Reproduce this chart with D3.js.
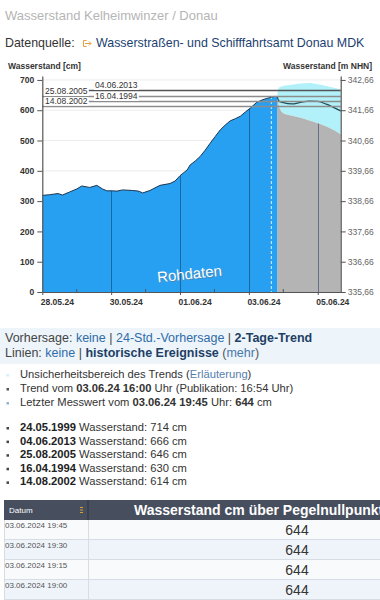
<!DOCTYPE html>
<html><head><meta charset="utf-8">
<script src="https://cdn.jsdelivr.net/npm/d3@7"></script>
<style>
html,body{margin:0;padding:0;background:#fff;}
svg{display:block;font-family:"Liberation Sans",Arial,Helvetica,sans-serif;}
</style></head><body>
<svg id="page" width="380" height="600"></svg>
<script>
// ---------- data ----------
const measuredTimes = ["28.05.2024 00:00","28.05.2024 05:00","28.05.2024 11:00","28.05.2024 14:00","28.05.2024 19:00",
"29.05.2024 00:00","29.05.2024 03:30","29.05.2024 07:00","29.05.2024 09:00","29.05.2024 14:00","29.05.2024 18:00","29.05.2024 21:00",
"30.05.2024 00:00","30.05.2024 04:00","30.05.2024 08:00","30.05.2024 15:00","30.05.2024 19:00","30.05.2024 22:00",
"31.05.2024 03:00","31.05.2024 10:00","31.05.2024 17:00","31.05.2024 20:30",
"01.06.2024 00:00","01.06.2024 05:00","01.06.2024 07:00","01.06.2024 10:30","01.06.2024 14:00","01.06.2024 17:30","01.06.2024 21:00",
"02.06.2024 00:30","02.06.2024 04:00","02.06.2024 07:30","02.06.2024 11:00","02.06.2024 14:30","02.06.2024 18:00","02.06.2024 21:30",
"03.06.2024 01:00","03.06.2024 05:30","03.06.2024 09:15","03.06.2024 12:30","03.06.2024 15:45","03.06.2024 18:15","03.06.2024 19:45"];
const measuredLevels = [319,321,325,320,330,
340,350,347,345,352,340,334,
334,333,337,335,333,327,
335,352,358,366,
384,403,419,432,447,468,491,
513,535,551,565,572,580,594,
607,626,634,639,643,646,644];

const trendTimes  = ["03.06.2024 19:45","03.06.2024 21:00","04.06.2024 00:00","04.06.2024 06:00","04.06.2024 12:00","04.06.2024 18:00","05.06.2024 00:00","05.06.2024 06:00","05.06.2024 12:00","05.06.2024 16:00"];
const trendLevels = [644,630,625,621,626,630,629,620,607,598];
const trendLower  = [640,612,590,582,575,566,557,546,532,520];
const trendUpper  = [650,675,680,684,688,690,686,680,673,668];
const trendIssued = "03.06.2024 16:00";

const historicDates  = ["24.05.1999","04.06.2013","25.08.2005","16.04.1994","14.08.2002"];
const historicLevels = [714,666,646,630,614];

const leftTicks  = [0,100,200,300,400,500,600,700];
const pegelNull  = 335.66;
const rightTicks = [335.66,336.66,337.66,338.66,339.66,340.66,341.66,342.66];
const majorDates = ["28.05.2024","30.05.2024","01.06.2024","03.06.2024","05.06.2024"];
const minorDates = ["29.05.2024","31.05.2024","02.06.2024","04.06.2024"];

const tableTimes  = ["03.06.2024 19:45","03.06.2024 19:30","03.06.2024 19:15","03.06.2024 19:00"];
const tableValues = [644,644,644,644];

// ---------- setup ----------
const parse = d3.timeParse("%d.%m.%Y %H:%M");
const parseDay = d3.timeParse("%d.%m.%Y");
const svg = d3.select("#page");
const FONT = '"Liberation Sans",Arial,Helvetica,sans-serif';

const measured = measuredTimes.map((t,i)=>({t:parse(t), v:measuredLevels[i]}));
const trend = trendTimes.map((t,i)=>({t:parse(t), v:trendLevels[i], lo:trendLower[i], hi:trendUpper[i]}));

// header
svg.append("text").attr("x",5).attr("y",20).attr("font-size",13).attr("fill","#b5b5b5")
  .text("Wasserstand Kelheimwinzer / Donau");
svg.append("text").attr("x",5).attr("y",47).attr("font-size",12.4).attr("fill","#333").text("Datenquelle:");
const ic = svg.append("g").attr("fill","none").attr("stroke","#e6a040").attr("stroke-width",1);
ic.append("path").attr("d","M86.5,40.5 H83.5 V46.5 H86.5");
ic.append("path").attr("d","M85,43.5 H91 M89,41.5 L91,43.5 L89,45.5");
svg.append("text").attr("x",96).attr("y",47).attr("font-size",12.4).attr("fill","#1d3f72")
  .text("Wasserstraßen- und Schifffahrtsamt Donau MDK");

// ---------- chart ----------
const X0 = 42.3, X1 = 340.7, YB = 292, YT = 76;
const x = d3.scaleTime().domain([parse("28.05.2024 00:00"), parse("05.06.2024 16:00")]).range([X0, X1]);
const y = d3.scaleLinear().domain([0, 713]).range([YB, YT]);
const yR = d3.scaleLinear().domain([pegelNull, pegelNull + 7.13]).range([YB, YT]);

const chart = svg.append("g");
// grid
chart.selectAll("line.grid").data(leftTicks.filter(d=>d>0)).join("line")
  .attr("x1",X0).attr("x2",X1).attr("y1",d=>y(d)).attr("y2",d=>y(d))
  .attr("stroke","#ececec").attr("stroke-width",1);

const areaM = d3.area().x(d=>x(d.t)).y0(y(0)).y1(d=>y(d.v));
const areaG = d3.area().x(d=>x(d.t)).y0(y(0)).y1(d=>y(d.lo)).curve(d3.curveMonotoneX);
const areaB = d3.area().x(d=>x(d.t)).y0(d=>y(d.lo)).y1(d=>y(d.hi)).curve(d3.curveMonotoneX);
const lineM = d3.line().x(d=>x(d.t)).y(d=>y(d.v));
const lineT = d3.line().x(d=>x(d.t)).y(d=>y(d.v)).curve(d3.curveMonotoneX);

chart.append("path").datum(trend).attr("d",areaB).attr("fill","#b3f1fa");
chart.append("path").datum(trend).attr("d",areaG).attr("fill","#b4b4b4");
chart.append("path").datum(measured).attr("d",areaM).attr("fill","#28a0f2");

const defs = svg.append("defs");
const cp = defs.append("clipPath").attr("id","fillclip");
cp.append("path").datum(measured).attr("d",areaM);
cp.append("path").datum(trend).attr("d",areaG);
const cpM = defs.append("clipPath").attr("id","mclip");
cpM.append("path").datum(measured).attr("d",areaM);

// vertical day lines inside filled areas
chart.append("g").attr("clip-path","url(#fillclip)")
  .selectAll("line").data(majorDates.slice(1)).join("line")
  .attr("x1",d=>Math.round(x(parseDay(d)))+0.5).attr("x2",d=>Math.round(x(parseDay(d)))+0.5)
  .attr("y1",YT).attr("y2",YB)
  .attr("stroke","rgba(10,30,70,0.45)").attr("stroke-width",1);
// dashed line at trend issue time
chart.append("line").attr("clip-path","url(#mclip)")
  .attr("x1",x(parse(trendIssued))-0.5).attr("x2",x(parse(trendIssued))-0.5)
  .attr("y1",YT).attr("y2",YB)
  .attr("stroke","#d8f0ff").attr("stroke-width",1).attr("stroke-dasharray","3,2");

chart.append("path").datum(measured).attr("d",lineM).attr("fill","none").attr("stroke","#1d3550").attr("stroke-width",1);
chart.append("path").datum(trend).attr("d",lineT).attr("fill","none").attr("stroke","#1e4a55").attr("stroke-width",1.3);

// historic lines
const hist = historicDates.map((d,i)=>({d, v:historicLevels[i]})).filter(h=>h.v<=700);
hist.forEach((h,i)=>{
  const lx = (i%2===0) ? 88 : X0;
  const yy = Math.round(y(h.v))+0.5;
  chart.append("line").attr("x1",lx).attr("x2",X1).attr("y1",yy).attr("y2",yy)
    .attr("stroke", i===0 ? "#555" : "#8c8c8c").attr("stroke-width", 1.3);
});
hist.forEach((h,i)=>{
  const lx = (i%2===0) ? 95 : 45;
  const yy = y(h.v);
  const t = chart.append("text").attr("x",lx).attr("y",yy-1.8).attr("font-size",8.5).attr("fill","#333").text(h.d);
  const bb = t.node().getBBox();
  chart.insert("rect", function(){return t.node();})
    .attr("x",bb.x-1).attr("y",bb.y+1).attr("width",bb.width+2).attr("height",bb.height-1.5).attr("fill","#fff");
});

// axes
const axL = chart.append("g").attr("transform",`translate(${X0},0)`)
  .call(d3.axisLeft(y).tickValues(leftTicks).tickSize(5).tickSizeOuter(0).tickPadding(3));
const axR = chart.append("g").attr("transform",`translate(${X1},0)`)
  .call(d3.axisRight(yR).tickValues(rightTicks).tickSize(5).tickSizeOuter(0).tickPadding(2)
  .tickFormat(d=>d3.format(".2f")(d).replace(".",",")));
const axB = chart.append("g").attr("transform",`translate(0,${YB})`)
  .call(d3.axisBottom(x).tickValues(majorDates.map(parseDay)).tickSize(3).tickSizeOuter(0).tickPadding(4)
  .tickFormat(d3.timeFormat("%d.%m.%y")));
[axL,axR,axB].forEach(a=>{
  a.select(".domain").attr("stroke","#555").attr("stroke-width",1.2);
  a.selectAll(".tick line").attr("stroke","#555");
  a.selectAll("text").attr("font-family",FONT).attr("font-size",8.5);
});
axL.selectAll("text").attr("font-weight","bold").attr("fill","#333");
axR.selectAll("text").attr("fill","#666");
axB.selectAll("text").attr("font-weight","bold").attr("fill","#333").attr("text-anchor","start").attr("dx",-2);
// minor ticks
chart.selectAll("line.minor").data(minorDates).join("line")
  .attr("x1",d=>x(parseDay(d))).attr("x2",d=>x(parseDay(d))).attr("y1",YB).attr("y2",YB-3)
  .attr("stroke","#555");

svg.append("text").attr("x",8).attr("y",69).attr("font-size",8.5).attr("font-weight","bold").attr("fill","#333").text("Wasserstand [cm]");
svg.append("text").attr("x",372).attr("y",69).attr("text-anchor","end").attr("font-size",8.5).attr("font-weight","bold").attr("fill","#333").text("Wasserstand [m NHN]");

// Rohdaten
const rg = svg.append("g").attr("transform","translate(190,279) rotate(-6)");
rg.append("text").attr("x",1).attr("y",1).attr("text-anchor","middle").attr("font-size",15).attr("fill","#5a7d99").attr("opacity",0.7).text("Rohdaten");
rg.append("text").attr("text-anchor","middle").attr("font-size",15).attr("fill","#fff").text("Rohdaten");

// ---------- options rows ----------
svg.append("rect").attr("x",0).attr("y",328).attr("width",380).attr("height",36).attr("fill","#edf4fa");
const r1 = svg.append("text").attr("x",5).attr("y",342).attr("font-size",12.5);
r1.append("tspan").attr("fill","#444").text("Vorhersage: ");
r1.append("tspan").attr("fill","#2f6ca8").text("keine");
r1.append("tspan").attr("fill","#444").text(" | ");
r1.append("tspan").attr("fill","#2f6ca8").text("24-Std.-Vorhersage");
r1.append("tspan").attr("fill","#444").text(" | ");
r1.append("tspan").attr("fill","#1d3f66").attr("font-weight","bold").text("2-Tage-Trend");
const r2 = svg.append("text").attr("x",5).attr("y",357).attr("font-size",12.5);
r2.append("tspan").attr("fill","#444").text("Linien: ");
r2.append("tspan").attr("fill","#2f6ca8").text("keine");
r2.append("tspan").attr("fill","#444").text(" | ");
r2.append("tspan").attr("fill","#1d3f66").attr("font-weight","bold").text("historische Ereignisse");
r2.append("tspan").attr("fill","#555").text(" (");
r2.append("tspan").attr("fill","#4a78a8").text("mehr");
r2.append("tspan").attr("fill","#555").text(")");

// legend
const legendRows = [
  {y:378, c:"#c9f4fa", parts:[["Unsicherheitsbereich des Trends (",0,"#333"],["Erläuterung",0,"#5580ad"],[")",0,"#333"]]},
  {y:392, c:"#555", parts:[["Trend vom ",0,"#333"],["03.06.24 16:00",1,"#333"],[" Uhr (Publikation: 16:54 Uhr)",0,"#333"]]},
  {y:406, c:"#8fb3cf", parts:[["Letzter Messwert vom ",0,"#333"],["03.06.24 19:45",1,"#333"],[" Uhr: ",0,"#333"],["644",1,"#333"],[" cm",0,"#333"]]}
];
historicDates.forEach((d,i)=>{
  legendRows.push({y:431+i*13.6, c:"#444", parts:[[d,1,"#222"],[" Wasserstand: "+historicLevels[i]+" cm",0,"#333"]]});
});
legendRows.forEach(r=>{
  svg.append("rect").attr("x",6.5).attr("y",r.y-4).attr("width",2.5).attr("height",2.5).attr("fill",r.c);
  const t = svg.append("text").attr("x",20).attr("y",r.y).attr("font-size",11.2);
  r.parts.forEach(p=>t.append("tspan").attr("fill",p[2]).attr("font-weight",p[1]?"bold":"normal").text(p[0]));
});

// ---------- table ----------
const TX = 4, TC = 88, TY = 500;
svg.append("rect").attr("x",TX).attr("y",TY).attr("width",380-TX).attr("height",20).attr("fill","#474e5e");
svg.append("line").attr("x1",TC).attr("x2",TC).attr("y1",TY).attr("y2",TY+20).attr("stroke","#2e3440");
svg.append("text").attr("x",9).attr("y",TY+13).attr("font-size",8).attr("fill","#fff").text("Datum");
svg.append("path").attr("d",`M80,${TY+7.5}h3 M80,${TY+10}h3 M80,${TY+12.5}h3`).attr("stroke","#d9a030").attr("stroke-width",1.2);
svg.append("text").attr("x",134).attr("y",TY+15).attr("font-size",14).attr("font-weight","bold").attr("fill","#fff")
  .text("Wasserstand cm über Pegelnullpunkt ("+pegelNull.toFixed(2).replace(".",",")+" m NHN)");
tableTimes.forEach((t,i)=>{
  const ry = TY+20+i*20;
  svg.append("rect").attr("x",TX).attr("y",ry).attr("width",380-TX).attr("height",20)
    .attr("fill", i%2===0 ? "#f8fafc" : "#eef4f9");
  svg.append("line").attr("x1",TX).attr("x2",380).attr("y1",ry+19.5).attr("y2",ry+19.5).attr("stroke","#d8dde3");
  svg.append("line").attr("x1",TC+0.5).attr("x2",TC+0.5).attr("y1",ry).attr("y2",ry+20).attr("stroke","#d8dde3");
  svg.append("text").attr("x",5).attr("y",ry+8).attr("font-size",8).attr("fill","#555").text(t);
  svg.append("text").attr("x",297).attr("y",ry+15).attr("text-anchor","middle").attr("font-size",14).attr("fill","#333").text(tableValues[i]);
});
svg.append("line").attr("x1",TX+0.5).attr("x2",TX+0.5).attr("y1",TY+20).attr("y2",600).attr("stroke","#d8dde3");
</script></body></html>
